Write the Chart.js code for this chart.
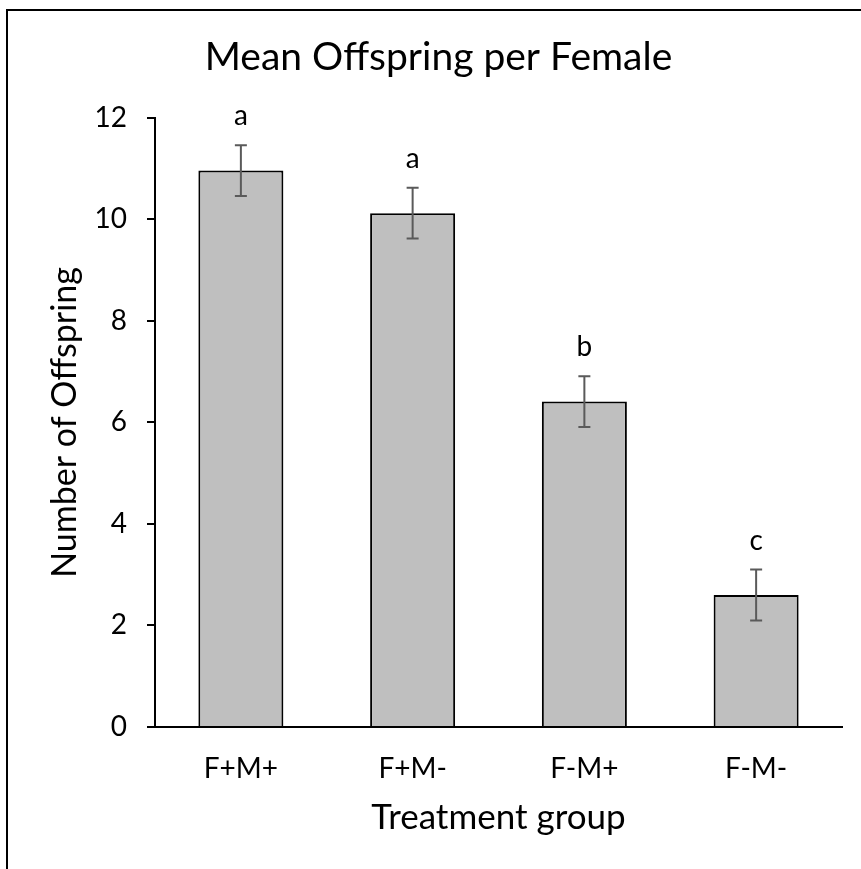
<!DOCTYPE html>
<html>
<head>
<meta charset="utf-8">
<script src="https://cdn.jsdelivr.net/npm/chart.js@4.4.1/dist/chart.umd.min.js"></script>
<style>
  html, body { margin: 0; padding: 0; background: #fff; }
  #wrap { position: relative; width: 861px; height: 869px; overflow: hidden; }
  #frame { position: absolute; left: 6px; top: 9px; width: 900px; height: 900px;
           border-left: 2px solid #000; border-top: 2px solid #000; }
  #chart { position: absolute; left: 0; top: 0; }
</style>
</head>
<body>
<div id="wrap">
  <div id="frame"></div>
  <canvas id="chart" width="861" height="869"></canvas>
</div>
<script>
// Treatment groups and their mean offspring counts (± standard error)
const groups = ['F+M+', 'F+M-', 'F-M+', 'F-M-'];
const meanOffspring = [10.96, 10.12, 6.41, 2.6];
const stdError = [0.5, 0.5, 0.5, 0.5];
// Significance letters shown above each bar
const groupLetters = ['a', 'a', 'b', 'c'];
// Y axis range and step
const yMin = 0;
const yMax = 12;
const yStep = 2;

const FONT = 'Lato, "DejaVu Sans", sans-serif';

// Draws the error bars and the significance letters above them
const errorBarsPlugin = {
  id: 'errorBars',
  afterDatasetsDraw(chart) {
    const ctx = chart.ctx;
    const yScale = chart.scales.y;
    const meta = chart.getDatasetMeta(0);
    ctx.save();
    meta.data.forEach((bar, i) => {
      const x = bar.x;
      const top = yScale.getPixelForValue(meanOffspring[i] + stdError[i]);
      const bottom = yScale.getPixelForValue(meanOffspring[i] - stdError[i]);
      ctx.strokeStyle = '#5a5a5a';
      ctx.lineWidth = 2;
      ctx.beginPath();
      ctx.moveTo(x, top);
      ctx.lineTo(x, bottom);
      ctx.moveTo(x - 6, top);
      ctx.lineTo(x + 6, top);
      ctx.moveTo(x - 6, bottom);
      ctx.lineTo(x + 6, bottom);
      ctx.stroke();

      ctx.fillStyle = '#000';
      ctx.font = '28px ' + FONT;
      ctx.textAlign = 'center';
      ctx.textBaseline = 'alphabetic';
      ctx.fillText(groupLetters[i], x, top - 20);
    });
    ctx.restore();
  }
};

new Chart(document.getElementById('chart'), {
  type: 'bar',
  data: {
    labels: groups,
    datasets: [{
      data: meanOffspring,
      backgroundColor: '#bfbfbf',
      borderColor: '#000',
      borderWidth: 2,
      categoryPercentage: 1,
      barPercentage: 0.495
    }]
  },
  options: {
    responsive: false,
    devicePixelRatio: 1,
    animation: false,
    layout: { padding: { left: 35, right: 19, top: 0, bottom: 0 } },
    plugins: {
      legend: { display: false },
      tooltip: { enabled: false },
      title: {
        display: true,
        text: 'Mean Offspring per Female',
        color: '#000',
        font: { family: FONT, size: 39, weight: 'normal' },
        padding: { top: 34, bottom: 37 }
      }
    },
    scales: {
      x: {
        z: 1,
        grid: { display: false, drawTicks: false },
        border: { display: true, color: '#000', width: 2 },
        ticks: { color: '#000', font: { family: FONT, size: 28 }, padding: 25 },
        title: {
          display: true,
          text: 'Treatment group',
          color: '#000',
          font: { family: FONT, size: 35 },
          padding: { top: 0, bottom: 30 }
        },
        afterFit(scale) { scale.height = 142; }
      },
      y: {
        z: 1,
        min: yMin,
        max: yMax,
        grid: { drawOnChartArea: false, drawTicks: true, tickLength: 8, color: '#000', lineWidth: 2 },
        border: { display: true, color: '#000', width: 2 },
        ticks: { stepSize: yStep, color: '#000', font: { family: FONT, size: 28 }, padding: 20 },
        title: {
          display: true,
          text: 'Number of Offspring',
          color: '#000',
          font: { family: FONT, size: 34 },
          padding: { top: 10, bottom: 0 }
        },
        afterFit(scale) { scale.width = 120; }
      }
    }
  },
  plugins: [errorBarsPlugin]
});
</script>
</body>
</html>
